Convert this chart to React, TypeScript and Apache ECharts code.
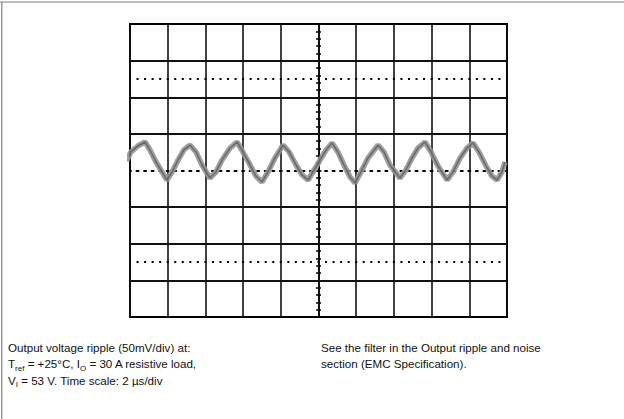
import React, { useEffect, useRef } from "react";
import * as echarts from "echarts";

// Oscilloscope trace: time (µs, centre of screen = 0) and ripple (mV)
const timeUs = [
  -10.37, -10.16, -9.95, -9.58, -9.2, -8.94, -8.62, -8.3, -8.04, -7.77, -7.45, -7.14,
  -6.82, -6.5, -6.18, -5.76, -5.44, -5.12, -4.69, -4.32, -4.01, -3.63, -3.32, -3.0,
  -2.68, -2.31, -1.88, -1.56, -1.19, -0.87, -0.55, -0.23, 0.08, 0.4, 0.72, 1.03,
  1.35, 1.67, 1.94, 2.25, 2.63, 3.16, 3.47, 3.79, 4.32, 4.64, 4.96, 5.28,
  5.65, 5.97, 6.34, 6.82, 7.14, 7.51, 7.88, 8.2, 8.51, 8.89, 9.2, 9.47,
  9.73, 9.89,
];
const rippleMv = [
  18.4, 14.3, 25.3, 33.5, 38.9, 28.0, 11.6, -2.0, -13.0, -2.0, 14.3, 28.0,
  34.8, 25.3, 7.5, -10.2, -2.0, 14.3, 30.7, 38.9, 25.3, 7.5, -7.5, -15.7,
  -2.0, 17.1, 34.8, 25.3, 7.5, -6.1, -13.0, 0.7, 14.3, 28.0, 37.6, 25.3,
  7.5, -8.9, -17.1, -2.0, 17.1, 34.8, 25.3, 7.5, -10.2, 0.7, 17.1, 30.7,
  38.9, 25.3, 6.1, -13.0, -2.0, 17.1, 30.7, 37.6, 25.3, 6.1, -7.5, -13.0,
  -2.0, 11.6,
];

// Graticule: 10 x 8 divisions, 2 µs/div and 50 mV/div
const timeMinUs = -10;
const timeMaxUs = 10;
const timeDivUs = 2;
const voltMinMv = -200;
const voltMaxMv = 200;
const voltDivMv = 50;
const solidLevelsMv = [-150, -100, -50, 50, 100, 150];
const dottedLevelsMv = [-125, 125];

const captionLeft = [
  "Output voltage ripple (50mV/div) at:",
  "T{sub|ref} = +25°C, I{sub|O} = 30 A resistive load,",
  "V{sub|I} = 53 V. Time scale: 2 µs/div",
];
const captionRight = [
  "See the filter in the Output ripple and noise",
  "section (EMC Specification).",
];

const FONT = '"Liberation Sans", Arial, Helvetica, sans-serif';
const GRID_LEFT = 130;
const GRID_WIDTH = 377;

export default function App() {
  const ref = useRef<HTMLDivElement>(null);

  useEffect(() => {
    if (!ref.current) return;
    const chart = echarts.init(ref.current, null, { renderer: "svg" });
    const pts = timeUs.map((t, i) => [t, rippleMv[i]]);

    const captionStyle = (text: string) => ({
      text,
      fontSize: 11.6,
      fontFamily: FONT,
      fill: "#111",
      lineHeight: 16.5,
      rich: {
        sub: {
          fontSize: 8,
          fontFamily: FONT,
          fill: "#111",
          lineHeight: 8,
          verticalAlign: "bottom",
        },
      },
    });

    const tickStyle = { color: "#000", width: 1.5 };
    const yCommon = {
      type: "value",
      min: voltMinMv,
      max: voltMaxMv,
      interval: voltDivMv,
      axisLabel: { show: false },
      splitLine: { show: false },
    };

    chart.setOption({
      animation: false,
      backgroundColor: "#fff",
      grid: {
        left: GRID_LEFT,
        top: 24,
        width: GRID_WIDTH,
        height: 293,
        show: true,
        borderColor: "#000",
        borderWidth: 2,
        backgroundColor: "transparent",
      },
      xAxis: {
        type: "value",
        min: timeMinUs,
        max: timeMaxUs,
        interval: timeDivUs,
        axisLabel: { show: false },
        axisTick: { show: false },
        axisLine: {
          show: true,
          onZero: true,
          lineStyle: { color: "#000", width: 2, type: [2, 5.54], dashOffset: 1 },
        },
        splitLine: { show: true, lineStyle: { color: "#111", width: 1.6 } },
      },
      yAxis: [
        {
          ...yCommon,
          position: "left",
          axisLine: { show: true, onZero: true, lineStyle: { color: "#000", width: 1.5 } },
          axisTick: { show: true, inside: false, length: 3, lineStyle: tickStyle },
          minorTick: { show: true, splitNumber: 5, length: 2.5, lineStyle: tickStyle },
        },
        {
          ...yCommon,
          position: "right",
          offset: -GRID_WIDTH / 2,
          axisLine: { show: false, onZero: false },
          axisTick: { show: true, inside: false, length: 3, lineStyle: tickStyle },
          minorTick: { show: true, splitNumber: 5, length: 2.5, lineStyle: tickStyle },
        },
      ],
      series: [
        {
          type: "line",
          data: [],
          silent: true,
          z: 1,
          markLine: {
            silent: true,
            symbol: ["none", "none"],
            label: { show: false },
            emphasis: { disabled: true },
            data: [
              ...solidLevelsMv.map((v) => ({
                yAxis: v,
                lineStyle: { type: "solid", width: 2, color: "#111" },
              })),
              ...dottedLevelsMv.map((v) => ({
                yAxis: v,
                lineStyle: { type: [2, 5.54], dashOffset: 1, width: 2, color: "#000" },
              })),
            ],
          },
        },
        {
          type: "line",
          data: pts,
          symbol: "none",
          clip: false,
          silent: true,
          z: 3,
          lineStyle: { color: "#959595", width: 5.5, opacity: 0.9 },
        },
        {
          type: "line",
          data: pts,
          symbol: "none",
          clip: false,
          silent: true,
          z: 4,
          lineStyle: { color: "#555", width: 1.6, opacity: 0.7 },
        },
      ],
      graphic: [
        {
          type: "line",
          silent: true,
          shape: { x1: 0, y1: 2, x2: 624, y2: 2 },
          style: { stroke: "#808080", lineWidth: 1.2 },
        },
        {
          type: "line",
          silent: true,
          shape: { x1: 1.8, y1: 2, x2: 1.8, y2: 419 },
          style: { stroke: "#808080", lineWidth: 1.2 },
        },
        {
          type: "text",
          left: 8,
          top: 339,
          silent: true,
          style: captionStyle(captionLeft.join("\n")),
        },
        {
          type: "text",
          left: 321,
          top: 339,
          silent: true,
          style: captionStyle(captionRight.join("\n")),
        },
      ],
    });

    return () => chart.dispose();
  }, []);

  return (
    <div
      ref={ref}
      style={{ position: "absolute", left: 0, top: 0, width: 624, height: 419, background: "#fff" }}
    />
  );
}
